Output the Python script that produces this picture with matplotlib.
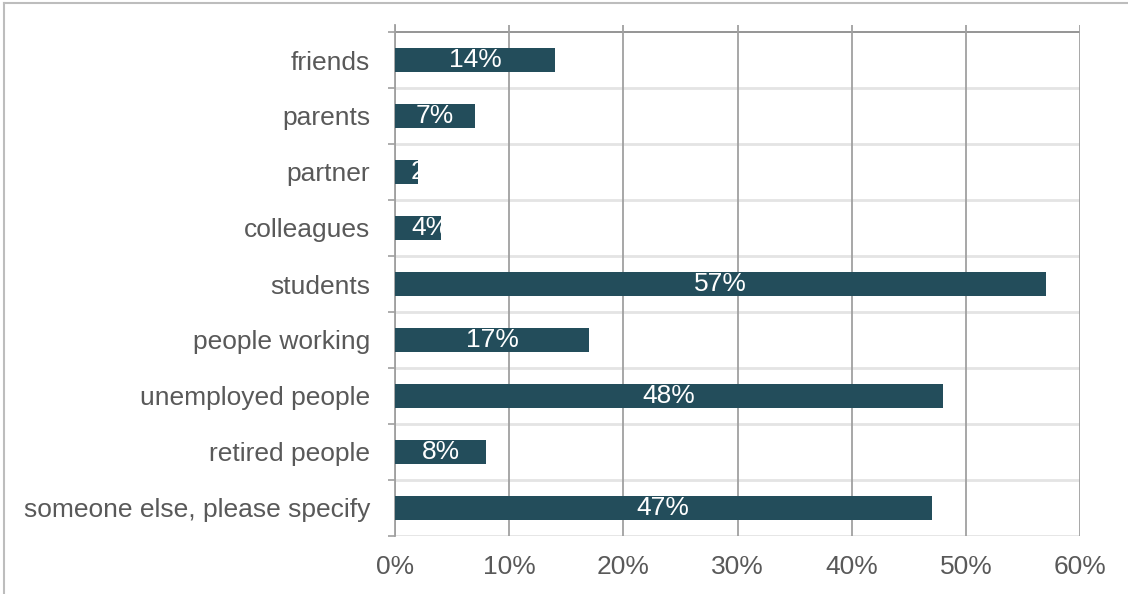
import matplotlib
matplotlib.use("Agg")
import matplotlib.pyplot as plt
import matplotlib.transforms as mtransforms
from matplotlib.lines import Line2D

categories = ["friends", "parents", "partner", "colleagues", "students",
              "people working", "unemployed people", "retired people",
              "someone else, please specify"]
values = [14, 7, 2, 4, 57, 17, 48, 8, 47]
xticks = [0, 10, 20, 30, 40, 50, 60]

bar_color = "#234D5B"
text_grey = "#595959"

plt.rcParams['font.family'] = ['Liberation Sans', 'DejaVu Sans']

fig = plt.figure(figsize=(11.28, 5.94), dpi=100)
ax = fig.add_axes([395 / 1128, 1 - 536 / 594, 685 / 1128, 511 / 594])

n = len(categories)
pos = list(range(n))[::-1]  # friends on top
bars = ax.barh(pos, values, height=0.43, color=bar_color, zorder=3)

ax.set_xlim(0, 60)
ax.set_ylim(-0.5, n - 0.5 + 0.125)

# category boundary lines
for b in range(n + 1):
    y = b - 0.5
    col = "#8C8C8C" if b == n else "#E4E4E4"
    lw = 1.3 if b == n else 2.0
    ax.axhline(y, color=col, lw=lw, zorder=1)

ax.set_xticks(xticks)
ax.set_xticklabels([f"{t}%" for t in xticks])
ax.grid(axis="x", color="#A0A0A0", lw=1.3, zorder=2)
ax.tick_params(axis="x", length=0, pad=14, labelsize=19, colors=text_grey)

ax.set_yticks(pos)
ax.set_yticklabels(categories)
ax.tick_params(axis="y", length=0, pad=18, labelsize=19, colors=text_grey)
ax.set_yticks([b - 0.5 for b in range(n + 1)], minor=True)
ax.tick_params(axis="y", which="minor", length=5, width=1.2, color="#A0A0A0")

for side in ["top", "right", "bottom"]:
    ax.spines[side].set_visible(False)
ax.spines["left"].set_color("#A0A0A0")
ax.spines["left"].set_linewidth(1.3)

# value labels, centred in the bar, clipped to it; when too wide they
# start a little right of the bar's base (as Excel does)
fig.canvas.draw()
renderer = fig.canvas.get_renderer()
left_pad = 16
shifted = mtransforms.offset_copy(ax.transData, fig=fig, x=left_pad, y=0, units="dots")
for v, p, bar in zip(values, pos, bars):
    t = ax.text(v / 2, p, f"{v}%", ha="center", va="center",
                color="white", fontsize=19, zorder=4)
    ext = t.get_window_extent(renderer)
    base = ax.transData.transform((0, p))[0]
    if ext.x0 < base + left_pad:
        t.set_position((0, p))
        t.set_transform(shifted)
        t.set_ha("left")
    t.set_clip_path(bar)

# outer frame of the chart area
fig.add_artist(Line2D([4 / 1128, 4 / 1128], [0, 1 - 3 / 594],
                      transform=fig.transFigure, color="#BDBDBD", lw=1.5))
fig.add_artist(Line2D([4 / 1128, 1], [1 - 3 / 594, 1 - 3 / 594],
                      transform=fig.transFigure, color="#BDBDBD", lw=1.5))

fig.savefig("out.png", dpi=100)
